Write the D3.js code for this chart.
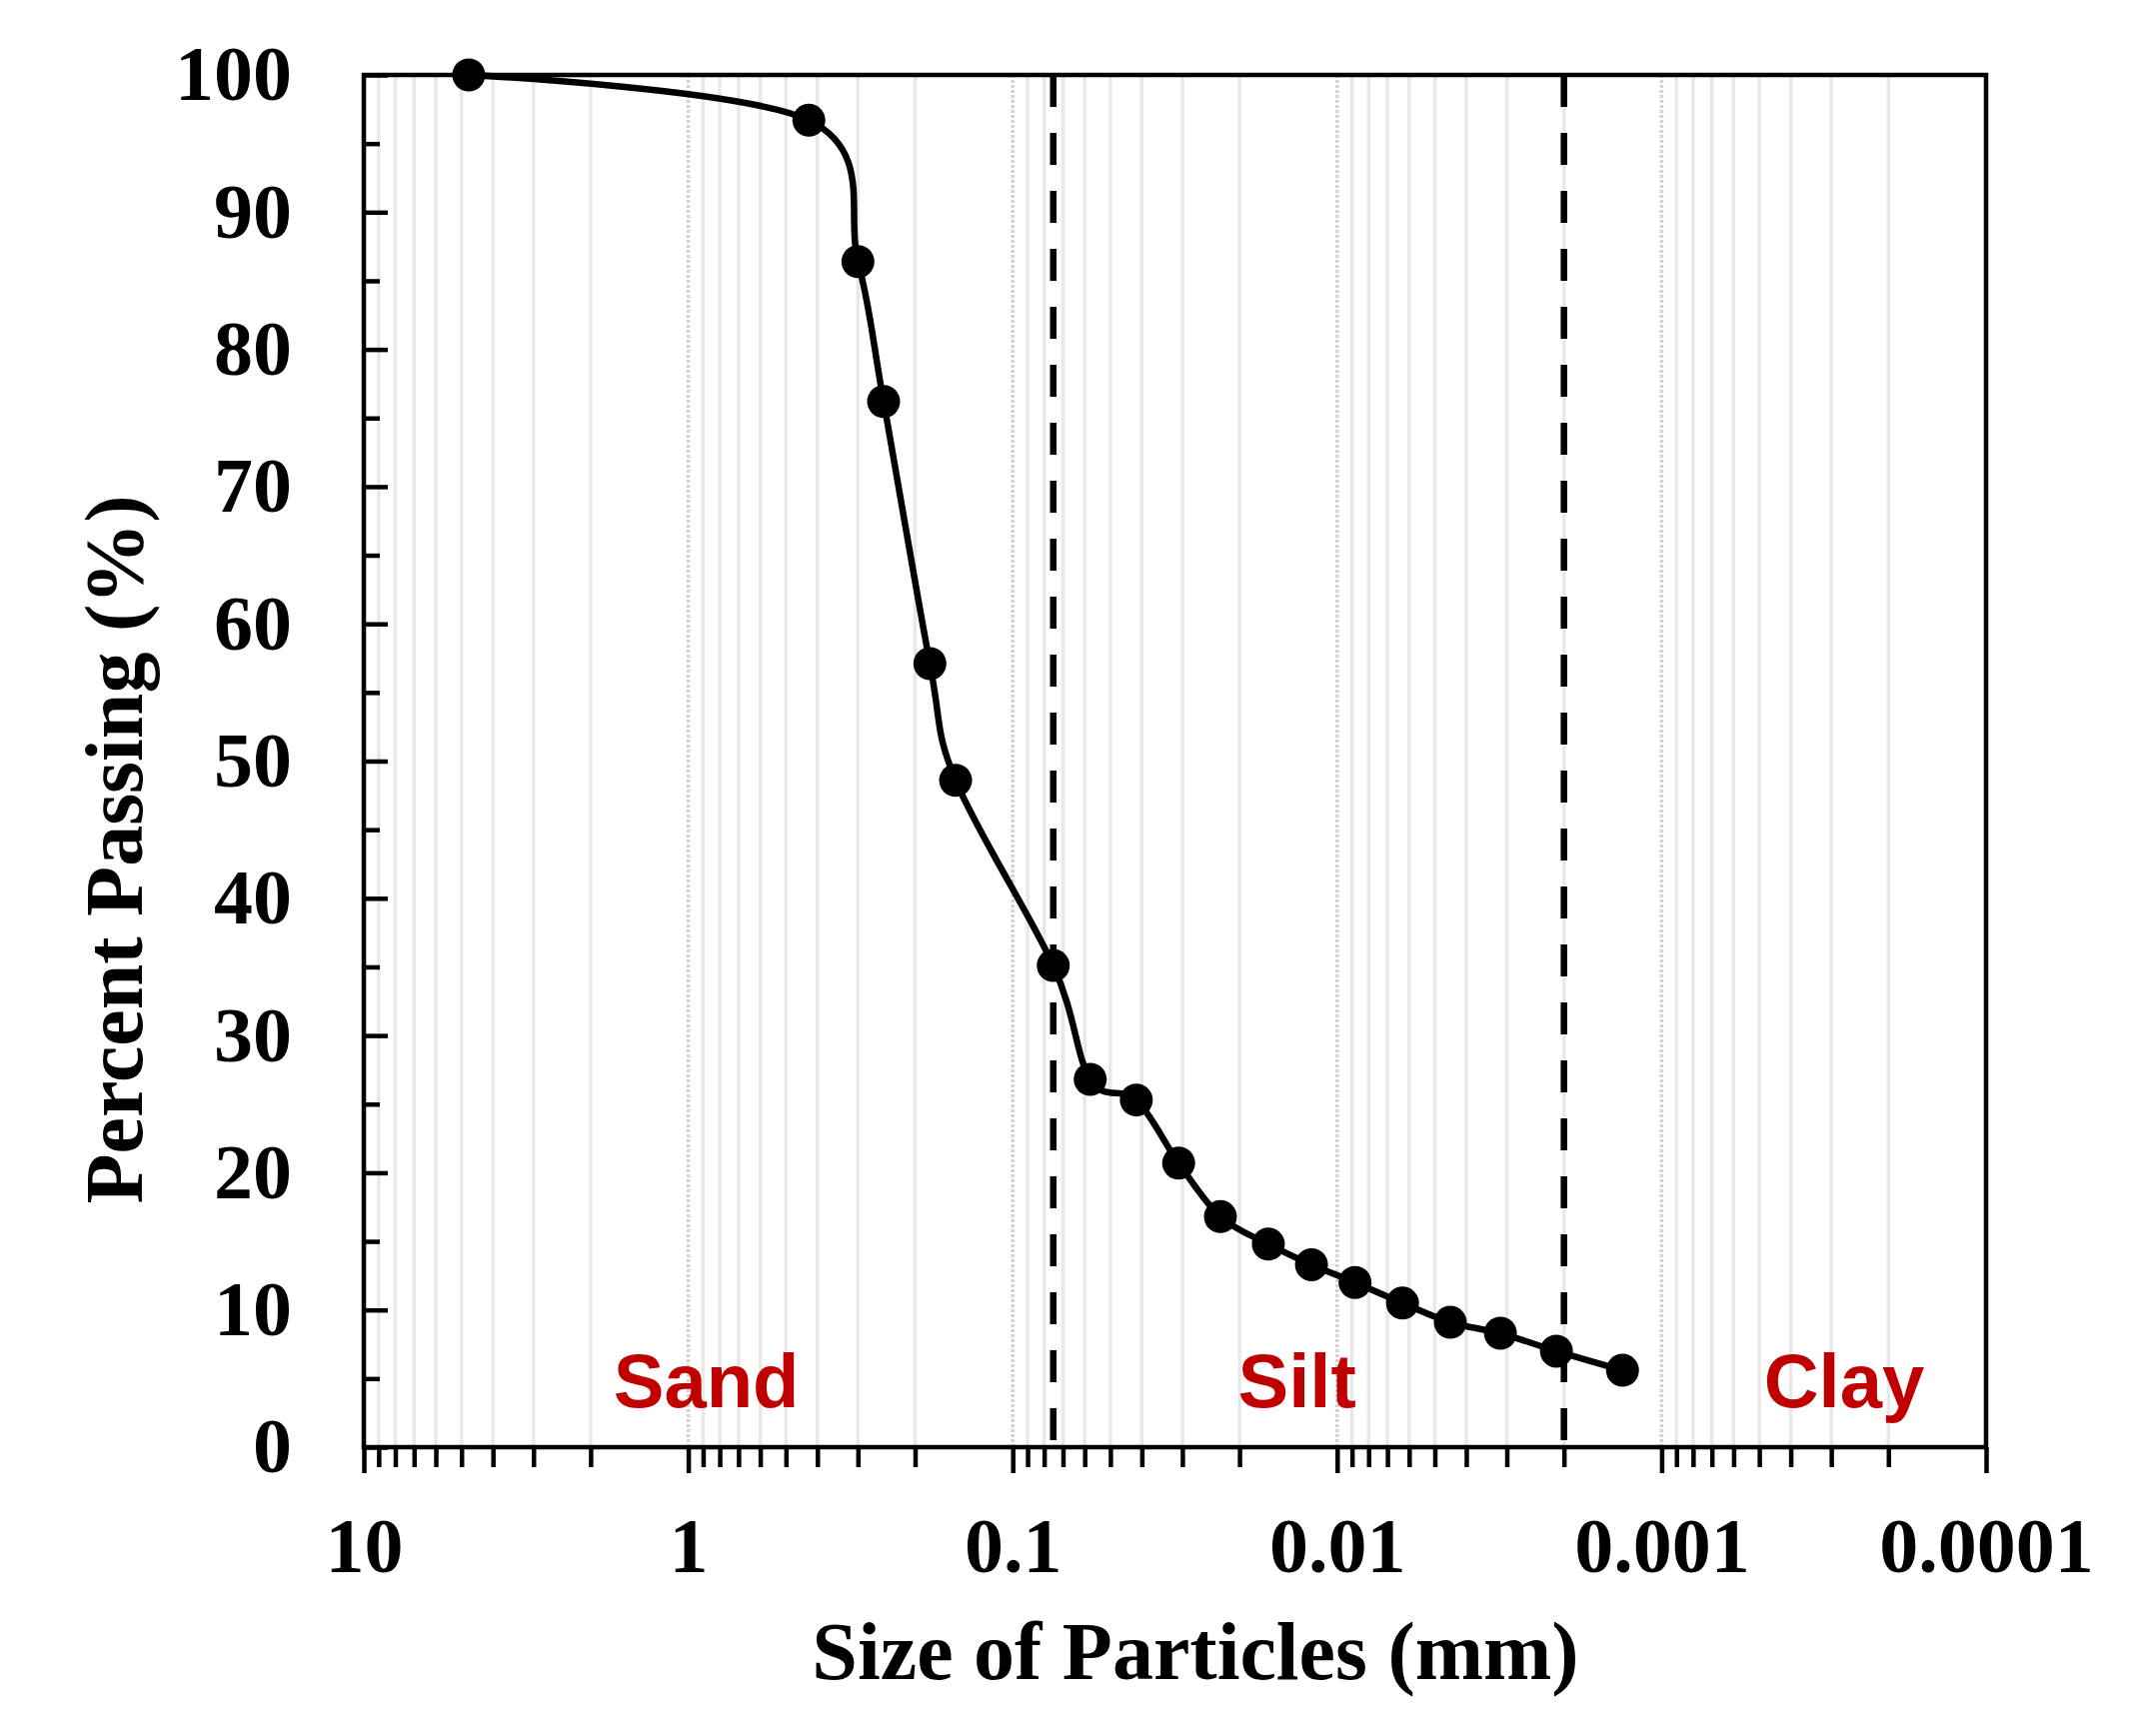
<!DOCTYPE html>
<html>
<head>
<meta charset="utf-8">
<script src="https://cdn.jsdelivr.net/npm/d3@7"></script>
<style>
  html, body { margin: 0; padding: 0; background: #ffffff; }
  svg { display: block; }
</style>
</head>
<body>
<svg id="chart" width="2130" height="1737"></svg>
<script>
// ---- data ----
const sizes   = [4.75, 0.425, 0.30, 0.25, 0.18, 0.15, 0.075, 0.0577, 0.0416, 0.0308, 0.0229, 0.0163, 0.0120, 0.00881, 0.00629, 0.00448, 0.00314, 0.00211, 0.00132];
const passing = [100, 96.7, 86.4, 76.2, 57.1, 48.6, 35.1, 26.8, 25.3, 20.7, 16.8, 14.8, 13.3, 12.0, 10.5, 9.1, 8.3, 7.0, 5.6];
const xMajorTicks = [10, 1, 0.1, 0.01, 0.001, 0.0001];
const xTickLabels = ["10", "1", "0.1", "0.01", "0.001", "0.0001"];
const yMajorTicks = [0, 10, 20, 30, 40, 50, 60, 70, 80, 90, 100];
const yMinorTicks = [5, 15, 25, 35, 45, 55, 65, 75, 85, 95];
const boundaries  = [0.075, 0.002];
const regionNames = ["Sand", "Silt", "Clay"];
const regionSizes = [0.88, 0.0133, 0.000274];
const regionLevel = 2.9;
const xTitle = "Size of Particles (mm)";
const yTitle = "Percent Passing (%)";

// ---- layout ----
const L = 364, R = 1987, T = 75, B = 1448;
const svg = d3.select("#chart");
svg.append("rect").attr("width", 2130).attr("height", 1737).attr("fill", "#fff");

const x = d3.scaleLog().domain([10, 0.0001]).range([L, R]);
const y = d3.scaleLinear().domain([0, 100]).range([B, T]);

// minor values 2..9 per decade
const xMinor = [];
xMajorTicks.slice(1).forEach(d => { for (let k = 2; k <= 9; k++) xMinor.push(+(d * k).toPrecision(3)); });
const xDecInner = xMajorTicks.slice(1, -1);

const serif = "'Liberation Serif','Times New Roman',serif";
const sans = "'Liberation Sans',Arial,sans-serif";

// gridlines
const grid = svg.append("g");
grid.selectAll("line.minor").data(xMinor).join("line")
  .attr("x1", d => x(d)).attr("x2", d => x(d)).attr("y1", T).attr("y2", B)
  .attr("stroke", "#e8e8e8").attr("stroke-width", 3.5);
grid.selectAll("line.dec").data(xDecInner).join("line")
  .attr("x1", d => x(d)).attr("x2", d => x(d)).attr("y1", T).attr("y2", B)
  .attr("stroke", "#d2d2d2").attr("stroke-width", 3.5).attr("stroke-dasharray", "3 2");

// boundary dashed lines
svg.append("g").selectAll("line").data(boundaries).join("line")
  .attr("x1", d => x(d)).attr("x2", d => x(d)).attr("y1", T).attr("y2", B)
  .attr("stroke", "#000").attr("stroke-width", 6.5).attr("stroke-dasharray", "32 26");

// region labels
svg.append("g").selectAll("text").data(regionNames).join("text")
  .attr("x", (d, i) => x(regionSizes[i])).attr("y", y(regionLevel))
  .attr("text-anchor", "middle")
  .attr("font-family", sans).attr("font-weight", "bold").attr("font-size", 76)
  .attr("fill", "#C00000").text(d => d);

// curve
const pts = sizes.map((s, i) => [s, passing[i]]);
const line = d3.line().x(d => x(d[0])).y(d => y(d[1])).curve(d3.curveCardinal.tension(0));
svg.append("path").datum(pts).attr("d", line)
  .attr("fill", "none").attr("stroke", "#000").attr("stroke-width", 6.5).attr("stroke-linejoin", "round");
svg.append("g").selectAll("circle").data(pts).join("circle")
  .attr("cx", d => x(d[0])).attr("cy", d => y(d[1])).attr("r", 16.5).attr("fill", "#000");

// axes
const xAxisMinor = svg.append("g").attr("transform", `translate(0,${B})`)
  .call(d3.axisBottom(x).tickValues(xMinor).tickSize(20).tickFormat(""));
const xAxis = svg.append("g").attr("transform", `translate(0,${B})`)
  .call(d3.axisBottom(x).tickValues(xMajorTicks).tickSize(26).tickPadding(44)
    .tickFormat((d, i) => xTickLabels[i]));
const yAxisMinor = svg.append("g").attr("transform", `translate(${L},0)`)
  .call(d3.axisLeft(y).tickValues(yMinorTicks).tickSize(-16).tickFormat(""));
const yAxis = svg.append("g").attr("transform", `translate(${L},0)`)
  .call(d3.axisLeft(y).tickValues(yMajorTicks).tickSize(-24).tickPadding(72));

[xAxisMinor, xAxis, yAxisMinor, yAxis].forEach(g => {
  g.select(".domain").remove();
  g.selectAll(".tick line").attr("stroke", "#000").attr("stroke-width", 4.5);
  g.selectAll(".tick text").attr("font-family", serif).attr("font-weight", "bold")
    .attr("font-size", 78).attr("fill", "#000");
});

// box
svg.append("rect").attr("x", L).attr("y", T).attr("width", R - L).attr("height", B - T)
  .attr("fill", "none").attr("stroke", "#000").attr("stroke-width", 4.5);

// titles
svg.append("text").attr("x", 1196).attr("y", 1680).attr("text-anchor", "middle")
  .attr("font-family", serif).attr("font-weight", "bold").attr("font-size", 82).text(xTitle);
svg.append("text").attr("transform", "translate(142,850) rotate(-90)").attr("text-anchor", "middle")
  .attr("font-family", serif).attr("font-weight", "bold").attr("font-size", 82).text(yTitle);
</script>
</body>
</html>
